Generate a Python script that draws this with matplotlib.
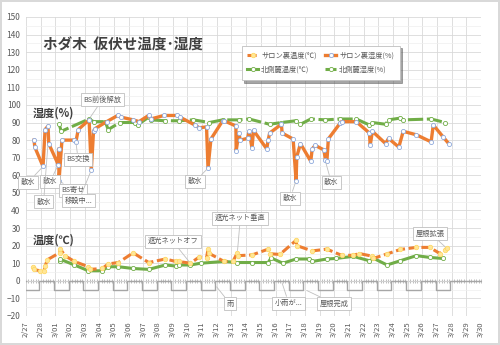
import numpy as np
import matplotlib.pyplot as plt
from matplotlib.ticker import MultipleLocator

plt.rcParams['font.family'] = ['Noto Sans CJK JP', 'DejaVu Sans']

# 日付ラベル（2/27 を 0 日目とする）
day_labels = ['2/27', '2/28', '3/01', '3/02', '3/03', '3/04', '3/05', '3/06',
              '3/07', '3/08', '3/09', '3/10', '3/11', '3/12', '3/13', '3/14',
              '3/15', '3/16', '3/17', '3/18', '3/19', '3/20', '3/21', '3/22',
              '3/23', '3/24', '3/25', '3/26', '3/27', '3/28', '3/29', '3/30']

# サロン裏湿度(%)
salon_hum_t = [0.55, 0.6, 1.16, 1.3, 1.5, 1.55, 2.2, 2.22, 2.25, 2.45, 3.3, 3.4, 3.56,
               4.3, 4.45, 4.6, 4.7, 5.5, 6.25, 6.5, 7.3, 7.7, 8.35, 8.5, 9.4, 10.3,
               10.5, 11.5, 11.8, 12.3, 12.4, 12.6, 13.4, 13.5, 14.3, 14.32, 14.5, 14.6,
               15.1, 15.2, 15.4, 15.5, 16.4, 16.5, 16.6, 17.4, 17.45, 18.2, 18.4, 18.45,
               18.7, 19.4, 19.5, 19.7, 20.3, 20.4, 20.5, 20.6, 21.4, 21.5, 22.5, 23.4,
               23.45, 23.6, 24.5, 24.7, 25.4, 25.7, 26.6, 27.6, 27.75, 28.4, 28.8]
salon_hum = [80, 76, 65, 86, 88, 78, 66, 75, 57, 80, 80, 79, 86,
             91.5, 63, 85, 86.5, 90.5, 94, 93, 91.5, 90.5, 94, 92, 94, 94,
             93, 88.6, 87, 87.5, 64, 80.6, 91, 91, 88, 74, 84, 80,
             81, 85, 75.5, 85.5, 75, 80, 84, 89, 84, 80.6, 57, 70.6,
             78, 68, 75, 77, 74.4, 68.7, 68, 80.7, 89.6, 90.5, 90.5, 84,
             77, 85, 78, 81, 76, 85, 83, 79, 88.6, 82, 78]

# 北側麓湿度(%)
north_hum_t = [2.26, 2.4, 4.3, 4.6, 5.4, 5.6, 6.4, 7.45, 7.6, 8.35, 8.5, 9.45, 10.4,
               11.4, 12.5, 13.4, 14.5, 15.2, 16.6, 17.4, 18.4, 18.7, 19.4, 20.4, 21.4,
               22.5, 23.4, 23.6, 24.5, 24.7, 25.5, 25.7, 27.6, 28.55]
north_hum = [89, 85, 92, 90.5, 90.5, 86, 90, 90, 88.6, 93, 91.5, 91, 91,
             91.5, 90, 91.5, 91.5, 92, 89, 90, 91, 89, 92, 91.5, 92,
             92, 88.6, 90, 89, 91.5, 92.5, 91.5, 92, 90]

# サロン裏温度(℃)
salon_temp_t = [0.5, 0.53, 0.94, 1.23, 1.3, 1.46, 2.3, 2.35, 2.65, 3.3, 4.25, 4.36,
                5.2, 5.6, 6.3, 7.3, 8.36, 9.5, 10.2, 10.4, 11.2, 11.8, 12.3, 12.4,
                12.45, 13.5, 14.1, 14.4, 14.45, 15.4, 16.5, 16.6, 17.3, 18.4, 18.45,
                19.5, 20.5, 21.5, 22.3, 22.7, 23.6, 23.65, 24.6, 25.5, 26.6, 27.5,
                28.2, 28.55, 28.65]
salon_temp = [8, 6.5, 5.7, 5.7, 8.4, 12, 16, 18, 14.3, 11, 8, 6.5,
              7, 9.6, 10.4, 15.9, 10.4, 12.4, 11, 11, 10, 13.5, 13, 18,
              15.7, 11, 11, 16, 14.3, 14.7, 18, 15.4, 15, 23, 20,
              17, 18, 14.5, 14.5, 15.5, 14, 12.7, 15.3, 17.8, 19, 19,
              15.5, 17.5, 18.6]

# 北側麓温度(℃)
north_temp_t = [2.3, 2.32, 3.3, 4.25, 5.2, 5.6, 6.3, 7.3, 8.36, 9.5, 10.2, 10.4,
                11.2, 11.9, 13.5, 14.4, 15.4, 16.5, 16.7, 17.5, 18.4, 19.3, 19.5,
                20.5, 21.1, 22.3, 23.4, 23.7, 24.6, 25.5, 26.6, 27.5, 28.4]
north_temp = [11, 12.3, 9, 5.7, 5.7, 8, 8, 7, 6.5, 9, 8.4, 9,
              9, 10, 11, 10.4, 10.4, 10.4, 13, 10, 12.4, 12.4, 11,
              12.4, 12.7, 13.9, 11.4, 12.7, 9, 11.4, 14.3, 13.3, 12.7]

# 夜間帯（-5 に下がる区間の開始日、長さ 1 日）
night_start = [-0.1, 1.9, 3.9, 5.9, 7.9, 9.9, 11.9, 13.9, 15.9, 17.9, 19.9,
               21.9, 23.9, 25.9, 27.9]
night_len = 1.0

# 吹き出しメモ: (文字, 文字位置(日,値), 指す点(日,値))
notes = [
    ('BS前後解放', (5.2, 103), (4.3, 92)),
    ('散水', (0.15, 56), (1.16, 65)),
    ('散水', (1.65, 56.5), (2.2, 66)),
    ('散水', (1.2, 45), (1.5, 78)),
    ('BS交換', (3.55, 69), (3.4, 79)),
    ('BS寄せ', (3.2, 51.5), (2.25, 57)),
    ('移設中...', (3.6, 45.5), (4.45, 63)),
    ('散水', (11.5, 56.5), (12.4, 64)),
    ('散水', (18.0, 47), (18.4, 57)),
    ('散水', (20.8, 56), (20.4, 68)),
    ('遮光ネットオフ', (10.0, 22.5), (11.2, 10)),
    ('遮光ネット垂直', (14.6, 35.5), (14.4, 16)),
    ('屋根拡張', (27.55, 27), (28.65, 18.6)),
    ('雨', (13.9, -13), (12.9, -2.5)),
    ('小雨が...', (17.9, -12.7), (17.4, 0)),
    ('屋根完成', (21.0, -13), (19.0, -5)),
]

ORANGE = '#ED7D31'
GREEN = '#70AD47'
GRAY_TXT = '#595959'

fig = plt.figure(figsize=(5, 3.45), dpi=100)
fig.patch.set_edgecolor('#D9D9D9')
fig.patch.set_linewidth(1.5)
ax = fig.add_axes([0.052, 0.0841, 0.91, 0.8667])
ax.set_xlim(0, 31)
ax.set_ylim(-20, 150)

for s in ax.spines.values():
    s.set_visible(False)

ax.set_yticks(range(-20, 151, 10))
ax.yaxis.set_minor_locator(MultipleLocator(5))
ax.set_xticks(range(len(day_labels)))
ax.set_xticklabels(day_labels, rotation=90)
ax.tick_params(axis='y', which='both', length=0, labelsize=6, labelcolor=GRAY_TXT, pad=4)
ax.tick_params(axis='x', length=0, labelsize=5.5, labelcolor=GRAY_TXT, pad=4)
ax.grid(True, which='major', color='#D9D9D9', lw=0.6)
ax.grid(True, which='minor', axis='y', color='#EFEFEF', lw=0.5)
ax.set_axisbelow(True)

# 0 の位置に横軸（目盛り付き）
zero_ax = ax.secondary_xaxis(20 / 170)
zero_ax.spines['bottom'].set_color('#A6A6A6')
zero_ax.spines['bottom'].set_linewidth(0.8)
zero_ax.set_xticks(range(len(day_labels)))
zero_ax.xaxis.set_minor_locator(MultipleLocator(1 / 6))
zero_ax.tick_params(which='both', direction='inout', length=3, width=0.5,
                    color='#A6A6A6', labelbottom=False)

# 夜間帯の矩形波
wave_x, wave_y = [0], [0]
for s in night_start:
    wave_x += [s, s, s + night_len, s + night_len]
    wave_y += [0, -5, -5, 0]
wave_x.append(31)
wave_y.append(0)
ax.plot(wave_x, wave_y, color='#A6A6A6', lw=1, zorder=2)

ax.plot(north_hum_t, north_hum, color=GREEN, lw=2.2, dashes=(5, 1.2),
        marker='o', ms=3, mfc='white', mec=GREEN, mew=0.6, zorder=4,
        label='北側麓湿度(%)')
ax.plot(salon_hum_t, salon_hum, color=ORANGE, lw=2.4,
        marker='o', ms=3, mfc='white', mec='#8FAADC', mew=0.6, zorder=5,
        label='サロン裏湿度(%)')
ax.plot(north_temp_t, north_temp, color=GREEN, lw=2.2,
        marker='o', ms=3, mfc='white', mec=GREEN, mew=0.6, zorder=4,
        label='北側麓温度(℃)')
ax.plot(salon_temp_t, salon_temp, color=ORANGE, lw=2.2, dashes=(3, 1.2),
        marker='o', ms=3.2, mfc='#FFE699', mec='#FFD966', mew=0.6, zorder=5,
        label='サロン裏温度(℃)')

for text, xy_text, xy in notes:
    ax.annotate(text, xy=xy, xytext=xy_text, ha='center', va='center',
                fontsize=5.2, color=GRAY_TXT, zorder=7,
                bbox=dict(boxstyle='square,pad=0.35', fc='white', ec='#BFBFBF', lw=0.6),
                arrowprops=dict(arrowstyle='-', color='#BFBFBF', lw=0.6,
                                shrinkA=0, shrinkB=1.5))

fig.text(0.086, 0.872, 'ホダ木  仮伏せ温度･湿度', fontsize=10.5, fontweight='bold',
         color='#404040', va='center')
fig.text(0.066, 0.672, '湿度(%)', fontsize=8, fontweight='bold', color='#404040', va='center')
fig.text(0.066, 0.304, '温度(℃)', fontsize=8, fontweight='bold', color='#404040', va='center')

handles, labels = ax.get_legend_handles_labels()
order = [labels.index(k) for k in ['サロン裏温度(℃)', '北側麓温度(℃)',
                                   'サロン裏湿度(%)', '北側麓湿度(%)']]
leg = ax.legend([handles[i] for i in order], [labels[i] for i in order],
                loc='upper left', bbox_to_anchor=(0.476, 0.878),
                bbox_transform=fig.transFigure, ncol=2, fontsize=5.2,
                frameon=True, fancybox=False, shadow=True, handlelength=1.5,
                handletextpad=0.4, columnspacing=1.2, labelcolor=GRAY_TXT,
                borderpad=0.8, labelspacing=0.9)
leg.get_frame().set_edgecolor('#BFBFBF')
leg.get_frame().set_linewidth(0.6)
leg.set_zorder(8)

fig.savefig('out.png', dpi=100)
